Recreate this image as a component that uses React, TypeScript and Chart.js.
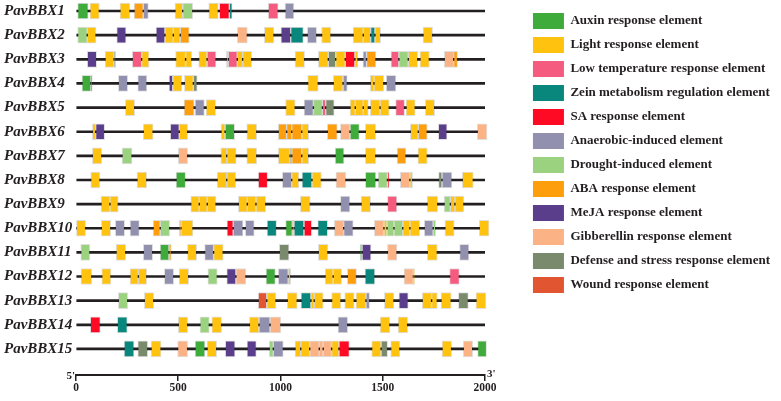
import React, { useEffect, useRef } from 'react';
import { Chart, registerables } from 'chart.js';

Chart.register(...registerables);

const FONT = '"Liberation Serif", "Times New Roman", serif';
const DARK = '#231f20';

const genes = [
  'PavBBX1', 'PavBBX2', 'PavBBX3', 'PavBBX4', 'PavBBX5',
  'PavBBX6', 'PavBBX7', 'PavBBX8', 'PavBBX9', 'PavBBX10',
  'PavBBX11', 'PavBBX12', 'PavBBX13', 'PavBBX14', 'PavBBX15',
];
const axisTicks = [0, 500, 1000, 1500, 2000];
const promoterLength = 2000;
const endLabels = ["5'", "3'"];

const elementNames = [
  'Auxin response element',
  'Light response element',
  'Low temperature response element',
  'Zein metabolism regulation element',
  'SA response element',
  'Anaerobic-induced element',
  'Drought-induced element',
  'ABA response element',
  'MeJA response element',
  'Gibberellin response element',
  'Defense and stress response element',
  'Wound response element',
];
const elementColors = [
  '#3fab3a', '#ffc20f', '#f55b7e', '#0a877c', '#fe0a24', '#9190ae',
  '#9ad27f', '#fd9e0c', '#5b3e8b', '#fbb385', '#7a8a6d', '#e15530',
];

// [gene number, start, end]
type Seg = [number, number, number];

const auxin: Seg[] = [
  [1, 8, 60], [4, 29, 73], [6, 729, 776], [6, 1340, 1386], [7, 1267, 1311],
  [8, 489, 536], [8, 1415, 1467], [10, 1025, 1058], [11, 411, 455], [11, 1389, 1399],
  [12, 929, 975], [15, 582, 631], [15, 1964, 2008],
];
const light: Seg[] = [
  [1, 68, 114], [1, 215, 264], [1, 484, 522], [1, 649, 696],
  [2, 55, 98], [2, 435, 476], [2, 476, 510], [2, 921, 968], [2, 1201, 1247], [2, 1355, 1405],
  [2, 1405, 1441], [2, 1462, 1490], [2, 1697, 1744],
  [3, 142, 186], [3, 321, 357], [3, 487, 536], [3, 536, 566], [3, 600, 641], [3, 789, 815],
  [3, 815, 859], [3, 1071, 1118], [3, 1185, 1234], [3, 1270, 1317], [3, 1364, 1379],
  [3, 1625, 1671], [3, 1682, 1728],
  [4, 473, 518], [4, 530, 574], [4, 1133, 1185], [4, 1258, 1306], [4, 1439, 1457], [4, 1457, 1505],
  [5, 241, 287], [5, 636, 683], [5, 1025, 1072], [5, 1340, 1366], [5, 1366, 1405], [5, 1405, 1430],
  [5, 1439, 1487], [5, 1487, 1532], [5, 1614, 1659], [5, 1708, 1754],
  [6, 80, 96], [6, 329, 377], [6, 505, 546], [6, 709, 729], [6, 835, 884], [6, 1104, 1138],
  [6, 1415, 1466], [6, 1635, 1674],
  [7, 80, 126], [7, 708, 737], [7, 737, 784], [7, 835, 884], [7, 989, 1047], [7, 1104, 1138],
  [7, 1415, 1466], [7, 1672, 1718],
  [8, 72, 117], [8, 298, 346], [8, 690, 737], [8, 737, 782], [8, 1055, 1090], [8, 1154, 1200],
  [8, 1633, 1646], [8, 1889, 1943],
  [9, 122, 166], [9, 166, 207], [9, 561, 603], [9, 603, 642], [9, 642, 685], [9, 794, 838],
  [9, 838, 880], [9, 880, 928], [9, 1097, 1146], [9, 1394, 1441], [9, 1717, 1769],
  [9, 1831, 1853], [9, 1853, 1897],
  [10, 2, 47], [10, 124, 170], [10, 513, 572], [10, 1058, 1066], [10, 1506, 1521],
  [10, 1598, 1633], [10, 1633, 1681], [10, 1804, 1850], [10, 1972, 2020],
  [11, 196, 243], [11, 545, 590], [11, 673, 720], [11, 1185, 1232], [11, 1718, 1767],
  [12, 24, 77], [12, 126, 171], [12, 264, 305], [12, 305, 346], [12, 504, 551], [12, 1038, 1050],
  [12, 1218, 1258], [12, 1258, 1299], [12, 1650, 1656],
  [13, 334, 380], [13, 933, 978], [13, 1033, 1082], [13, 1149, 1165], [13, 1165, 1209],
  [13, 1250, 1296], [13, 1314, 1361], [13, 1369, 1418], [13, 1508, 1555], [13, 1693, 1739],
  [13, 1739, 1767], [13, 1785, 1835], [13, 1956, 2005],
  [14, 500, 546], [14, 664, 712], [14, 848, 895], [14, 1487, 1535], [14, 1575, 1622],
  [15, 367, 416], [15, 641, 688], [15, 1071, 1099], [15, 1099, 1143], [15, 1250, 1286],
  [15, 1446, 1492], [15, 1539, 1584], [15, 1790, 1837],
];
const lowTemp: Seg[] = [
  [1, 940, 989], [3, 275, 321], [3, 641, 685], [3, 745, 789], [3, 1540, 1579],
  [5, 1205, 1221], [5, 1563, 1607], [9, 1523, 1570], [12, 1827, 1875],
];
const zein: Seg[] = [
  [1, 750, 764], [2, 1050, 1112], [2, 1441, 1462], [8, 1105, 1154], [10, 934, 981],
  [10, 1066, 1115], [10, 1182, 1231], [12, 1413, 1462], [13, 1100, 1149], [14, 202, 251],
  [15, 235, 284],
];
const sa: Seg[] = [
  [1, 701, 750], [3, 1317, 1364], [8, 891, 937], [8, 1523, 1532], [10, 738, 769],
  [10, 1115, 1153], [14, 70, 119], [15, 1286, 1337],
];
const anaerobic: Seg[] = [
  [1, 329, 354], [1, 1022, 1066], [2, 1131, 1177], [3, 1403, 1421], [4, 207, 253],
  [4, 302, 347], [4, 1306, 1327], [4, 1517, 1565], [5, 582, 628], [5, 1115, 1161],
  [8, 1009, 1055], [8, 1790, 1839], [9, 1293, 1340], [10, 192, 238], [10, 264, 310],
  [10, 769, 817], [10, 828, 872], [10, 1309, 1356], [10, 1703, 1747], [11, 329, 375],
  [11, 629, 673], [11, 1876, 1922], [12, 432, 478], [12, 989, 1038], [13, 1418, 1436],
  [14, 895, 949], [14, 1281, 1329], [15, 965, 1014],
];
const drought: Seg[] = [
  [1, 522, 571], [2, 8, 55], [3, 1579, 1625], [5, 1161, 1205], [7, 225, 274],
  [8, 1477, 1523], [9, 1800, 1831], [10, 412, 458], [10, 1521, 1555], [10, 1555, 1598],
  [10, 1747, 1759], [11, 23, 68], [12, 645, 691], [13, 207, 253], [14, 606, 652],
  [15, 945, 965],
];
const aba: Seg[] = [
  [1, 284, 329], [2, 510, 554], [3, 1421, 1467], [3, 1847, 1866], [5, 528, 578],
  [6, 989, 1030], [6, 1030, 1055], [6, 1055, 1104], [6, 1229, 1278], [6, 1674, 1718],
  [7, 1055, 1104], [7, 1570, 1614], [10, 377, 412], [10, 505, 513], [11, 455, 466],
  [12, 1327, 1372],
];
const meja: Seg[] = [
  [2, 199, 245], [2, 391, 435], [2, 1002, 1050], [3, 55, 101], [4, 455, 473],
  [6, 96, 140], [6, 461, 505], [6, 1772, 1815], [11, 1399, 1443], [12, 737, 782],
  [13, 1579, 1625], [15, 730, 778], [15, 836, 882],
];
const gibberellin: Seg[] = [
  [2, 789, 838], [3, 735, 745], [3, 1801, 1847], [6, 1293, 1340], [6, 1962, 2010],
  [7, 500, 546], [8, 1271, 1320], [8, 1586, 1633], [10, 1263, 1309], [10, 1459, 1506],
  [11, 1523, 1570], [12, 782, 831], [12, 1604, 1650], [14, 949, 1002], [15, 497, 546],
  [15, 1143, 1190], [15, 1190, 1209], [15, 1209, 1250], [15, 1894, 1940],
];
const defense: Seg[] = [
  [3, 186, 194], [3, 1234, 1270], [4, 73, 80], [4, 574, 593], [5, 1221, 1263],
  [7, 1047, 1055], [8, 1773, 1790], [11, 994, 1042], [13, 1870, 1919], [15, 302, 351],
  [15, 1492, 1524],
];
const wound: Seg[] = [[13, 891, 933]];

const elementSegments = [
  auxin, light, lowTemp, zein, sa, anaerobic, drought, aba, meja, gibberellin, defense, wound,
];

const endLabelPlugin = {
  id: 'endLabels',
  afterDraw(chart: any) {
    const xs = chart.scales.x;
    const ctx = chart.ctx;
    const y = xs.top;
    ctx.save();
    ctx.font = `bold 11px ${FONT}`;
    ctx.fillStyle = DARK;
    ctx.textBaseline = 'alphabetic';
    ctx.textAlign = 'right';
    ctx.fillText(endLabels[0], xs.getPixelForValue(0) - 1, y + 4);
    ctx.textAlign = 'left';
    ctx.fillText(endLabels[1], xs.getPixelForValue(promoterLength) + 2, y + 2);
    ctx.restore();
  },
};

export default function App() {
  const ref = useRef<HTMLCanvasElement | null>(null);

  useEffect(() => {
    if (!ref.current) return;
    const datasets: any[] = elementNames.map((name, i) => ({
      label: name,
      data: elementSegments[i].map(([g, s, e]) => ({ x: [s, e], y: g })),
      backgroundColor: elementColors[i],
      borderColor: 'rgba(0,0,0,0.12)',
      borderWidth: 1,
      borderSkipped: false,
      barThickness: 16,
      grouped: false,
      clip: false,
      order: 0,
    }));
    datasets.push({
      label: 'backbone',
      data: genes.map((_, i) => ({ x: [0, promoterLength], y: i + 1 })),
      backgroundColor: DARK,
      borderWidth: 0,
      barThickness: 2,
      grouped: false,
      order: 1,
    });

    const chart = new Chart(ref.current, {
      type: 'bar',
      data: { datasets },
      plugins: [endLabelPlugin],
      options: {
        indexAxis: 'y',
        animation: false,
        responsive: false,
        maintainAspectRatio: false,
        layout: { padding: { left: 4, top: 5, right: 1, bottom: 0 } },
        plugins: {
          tooltip: { enabled: false },
          legend: {
            position: 'right',
            align: 'start',
            maxWidth: 400,
            labels: {
              boxWidth: 31,
              boxHeight: 16,
              padding: 8,
              color: DARK,
              font: { family: FONT, size: 13, weight: 'bold' },
              filter: (item: any) => item.datasetIndex < elementNames.length,
              generateLabels: (c: any) =>
                (Chart.defaults.plugins.legend.labels as any)
                  .generateLabels(c)
                  .map((l: any) => ({ ...l, lineWidth: 0 })),
            },
          },
        },
        scales: {
          x: {
            type: 'linear',
            min: 0,
            max: promoterLength,
            offset: false,
            afterBuildTicks: (s: any) => {
              s.ticks = axisTicks.map((v) => ({ value: v }));
            },
            ticks: {
              callback: (v: any) => String(v),
              color: DARK,
              font: { family: FONT, size: 11.5, weight: 'bold' },
              padding: 0,
              maxRotation: 0,
              autoSkip: false,
            },
            grid: {
              display: true,
              drawOnChartArea: false,
              drawTicks: true,
              tickLength: 6,
              color: DARK,
              lineWidth: 1.5,
              offset: false,
            },
            border: { display: true, color: DARK, width: 2 },
            afterFit: (s: any) => {
              s.height = 26;
              s.paddingLeft = 0;
              s.paddingRight = 0;
              s.paddingTop = 0;
              s.paddingBottom = 0;
            },
          },
          y: {
            type: 'linear',
            reverse: true,
            offset: false,
            min: 0.75,
            max: 16.08,
            afterBuildTicks: (s: any) => {
              s.ticks = genes.map((_, i) => ({ value: i + 1 }));
            },
            ticks: {
              callback: (v: any) => genes[Math.round(Number(v)) - 1] ?? '',
              color: DARK,
              font: { family: FONT, size: 15, style: 'italic', weight: 'bold' },
              crossAlign: 'far',
              autoSkip: false,
              padding: 0,
            },
            grid: { display: false, offset: false },
            border: { display: false },
            afterFit: (s: any) => {
              s.width = 72;
              s.paddingTop = 0;
              s.paddingBottom = 0;
              s.paddingLeft = 0;
              s.paddingRight = 0;
            },
          },
          yR: {
            type: 'linear',
            position: 'right',
            display: true,
            offset: false,
            ticks: { display: false },
            grid: { display: false },
            border: { display: false },
            afterFit: (s: any) => {
              s.width = 40;
              s.paddingTop = 0;
              s.paddingBottom = 0;
            },
          },
        },
      } as any,
    });
    return () => chart.destroy();
  }, []);

  return (
    <div style={{ position: 'fixed', left: 0, top: 0, width: 781, height: 401, background: '#fff' }}>
      <canvas ref={ref} width={781} height={401} style={{ width: 781, height: 401 }} />
    </div>
  );
}
